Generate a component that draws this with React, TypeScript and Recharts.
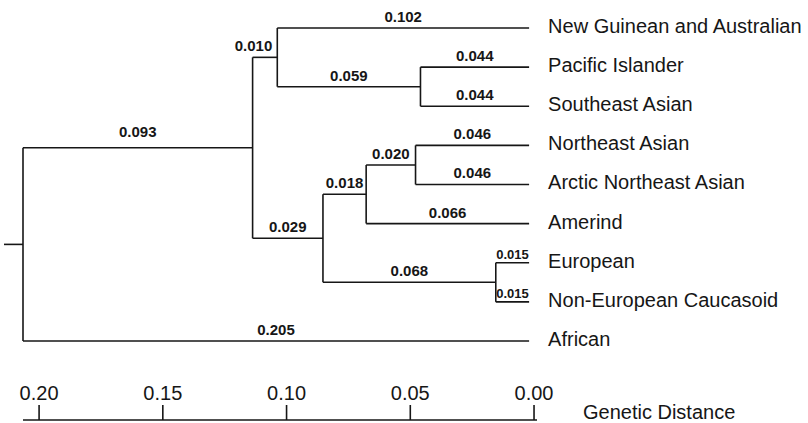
import React from 'react'
import { ComposedChart, XAxis, YAxis, ReferenceLine, Scatter } from 'recharts'

// tips of the tree, top to bottom
const leaves = [
  'New Guinean and Australian',
  'Pacific Islander',
  'Southeast Asian',
  'Northeast Asian',
  'Arctic Northeast Asian',
  'Amerind',
  'European',
  'Non-European Caucasoid',
  'African',
]

// internal nodes: height = genetic distance from the tips
const nodeIds = ['root', 'A', 'B', 'C', 'D', 'E', 'F', 'G']
const nodeHeights = [0.205, 0.112, 0.102, 0.044, 0.0835, 0.066, 0.046, 0.0135]
const nodeChildren = [
  ['A', 'African'],
  ['B', 'D'],
  ['New Guinean and Australian', 'C'],
  ['Pacific Islander', 'Southeast Asian'],
  ['E', 'G'],
  ['F', 'Amerind'],
  ['Northeast Asian', 'Arctic Northeast Asian'],
  ['European', 'Non-European Caucasoid'],
]

// printed branch lengths, keyed by the node at the end of the branch
const branchChild = [
  'A', 'African', 'B', 'D',
  'New Guinean and Australian', 'C', 'Pacific Islander', 'Southeast Asian',
  'E', 'G', 'F', 'Amerind',
  'Northeast Asian', 'Arctic Northeast Asian', 'European', 'Non-European Caucasoid',
]
const branchText = [
  '0.093', '0.205', '0.010', '0.029',
  '0.102', '0.059', '0.044', '0.044',
  '0.018', '0.068', '0.020', '0.066',
  '0.046', '0.046', '0.015', '0.015',
]

const distanceTicks = [0.2, 0.15, 0.1, 0.05, 0]
const rootStub = 0.0077

const FONT = '"Liberation Sans", Arial, Helvetica, sans-serif'
const INK = '#161616'

const heightOf = (id: string) => {
  const i = nodeIds.indexOf(id)
  return i < 0 ? 0 : nodeHeights[i]
}
const rowOf = (id: string): number => {
  const li = leaves.indexOf(id)
  if (li >= 0) return li
  const kids = nodeChildren[nodeIds.indexOf(id)]
  return kids.reduce((s, k) => s + rowOf(k), 0) / kids.length
}
const parentOf = (id: string) => nodeIds[nodeChildren.findIndex((k) => k.includes(id))]

type Pt = { x: number; y: number }
const segments: [Pt, Pt][] = []
nodeIds.forEach((id, i) => {
  const h = nodeHeights[i]
  const rows = nodeChildren[i].map(rowOf)
  segments.push([{ x: h, y: Math.min(...rows) }, { x: h, y: Math.max(...rows) }])
  nodeChildren[i].forEach((k) => {
    segments.push([{ x: h, y: rowOf(k) }, { x: heightOf(k), y: rowOf(k) }])
  })
})
segments.push([
  { x: nodeHeights[0] + rootStub, y: rowOf('root') },
  { x: nodeHeights[0], y: rowOf('root') },
])

const branchLabels = branchChild.map((c, i) => {
  const p = parentOf(c)
  const hp = heightOf(p)
  const hc = heightOf(c)
  const short = hp - hc < 0.012
  return {
    x: short ? hc : (hp + hc) / 2,
    y: rowOf(c),
    text: branchText[i],
    short,
    small: hc === 0 && hp < 0.02,
    // the root's long upper branch carries its label a little higher
    lift: p === 'root' && c !== 'African',
  }
})

const leafLabels = leaves.map((name, i) => ({ x: 0, y: i, text: name }))
const tickAnchors = distanceTicks.map((v) => ({ x: v, y: 8 }))

function BranchLabel(props: any) {
  const { cx, cy, payload } = props
  const gap = payload.small ? 4 : payload.lift ? 11 : 6
  return (
    <text
      x={payload.short ? cx - 5 : cx}
      y={cy - gap}
      textAnchor={payload.short ? 'end' : 'middle'}
      fontSize={payload.small ? 13 : 15}
      fontWeight="bold"
      fontFamily={FONT}
      fill={INK}
    >
      {payload.text}
    </text>
  )
}

function LeafLabel(props: any) {
  const { cx, cy, payload } = props
  return (
    <text x={cx + 19} y={cy + 5} fontSize={20} fontFamily={FONT} fill={INK}>
      {payload.text}
    </text>
  )
}

function AxisTick(props: any) {
  const { x, y, payload } = props
  return (
    <g>
      <line x1={x} y1={y - 15} x2={x} y2={y} stroke={INK} strokeWidth={1.6} />
      <text x={x} y={y - 20} textAnchor="middle" fontSize={20} fontFamily={FONT} fill={INK}>
        {Number(payload.value).toFixed(2)}
      </text>
    </g>
  )
}

function AxisTitle(props: any) {
  const vb = props.viewBox || {}
  return (
    <text x={(vb.x ?? 0) + (vb.width ?? 0) + 46} y={(vb.y ?? 0) - 1} fontSize={20} fontFamily={FONT} fill={INK}>
      Genetic Distance
    </text>
  )
}

export default function App() {
  return (
    <div style={{ position: 'absolute', left: 0, top: 0, background: '#fff' }}>
      <ComposedChart
        width={808}
        height={423}
        margin={{ top: 28, right: 271, left: 23, bottom: 2 }}
      >
        <XAxis
          xAxisId="tree"
          dataKey="x"
          type="number"
          domain={[-0.0032, 0.205]}
          reversed
          hide
        />
        <XAxis
          xAxisId="scale"
          dataKey="x"
          type="number"
          domain={[-0.0012, 0.2065]}
          reversed
          ticks={distanceTicks}
          interval={0}
          height={1}
          tickSize={0}
          tickMargin={0}
          tickLine={false}
          axisLine={{ stroke: INK, strokeWidth: 1.6 }}
          tick={AxisTick}
          label={{ value: 'Genetic Distance', content: AxisTitle }}
        />
        <YAxis
          dataKey="y"
          type="number"
          domain={[0, 10.02]}
          reversed
          hide
        />
        {segments.map((s, i) => (
          <ReferenceLine
            key={i}
            xAxisId="tree"
            segment={s}
            stroke={INK}
            strokeWidth={1.6}
            ifOverflow="visible"
          />
        ))}
        <Scatter
          xAxisId="scale"
          data={tickAnchors}
          shape={() => <g />}
          isAnimationActive={false}
        />
        <Scatter
          xAxisId="tree"
          data={branchLabels}
          shape={BranchLabel}
          isAnimationActive={false}
        />
        <Scatter
          xAxisId="tree"
          data={leafLabels}
          shape={LeafLabel}
          isAnimationActive={false}
        />
      </ComposedChart>
    </div>
  )
}
